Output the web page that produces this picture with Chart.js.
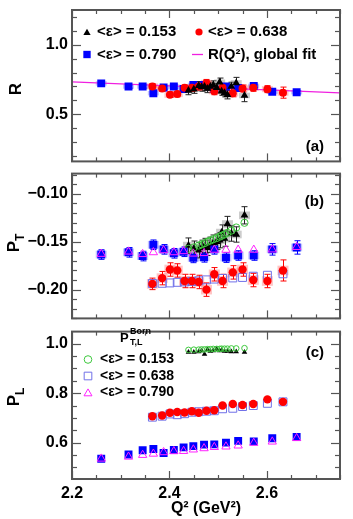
<!DOCTYPE html>
<html><head><meta charset="utf-8">
<script src="https://cdn.jsdelivr.net/npm/chart.js@4"></script>
<style>
html,body{margin:0;padding:0;background:#fff;}
body{width:353px;height:519px;position:relative;overflow:hidden;}
canvas{position:absolute;left:0;}
</style></head><body>
<canvas id="ca" width="353" height="167" style="top:0px"></canvas>
<canvas id="cb" width="353" height="158" style="top:167px"></canvas>
<canvas id="cc" width="353" height="194" style="top:325px"></canvas>
<script>
// ---------------- data ----------------
const xRange = [2.2, 2.75];
const xTicks = [2.2, 2.4, 2.6];
const yTicksR = [0.5, 1.0];
const yTicksPT = [-0.20, -0.15, -0.10];
const yTicksPL = [0.6, 0.8, 1.0];
const epsLabels = ['<ε> = 0.153', '<ε> = 0.638', '<ε> = 0.790'];
const fitLabel = 'R(Q²), global fit';

const q2E153 = [2.439, 2.450, 2.460, 2.466, 2.472, 2.478, 2.484, 2.490, 2.497, 2.503, 2.507, 2.513, 2.519, 2.527, 2.537, 2.554];
const q2E638 = [2.365, 2.385, 2.401, 2.416, 2.431, 2.446, 2.460, 2.476, 2.492, 2.509, 2.530, 2.550, 2.572, 2.601, 2.633];
const q2E790 = [2.260, 2.316, 2.345, 2.367, 2.388, 2.409, 2.429, 2.449, 2.471, 2.492, 2.516, 2.541, 2.573, 2.611, 2.661];

const rE153    = [0.670, 0.680, 0.705, 0.695, 0.700, 0.685, 0.700, 0.710, 0.690, 0.730, 0.665, 0.655, 0.640, 0.700, 0.725, 0.635];
const rErrE153 = [0.030, 0.030, 0.030, 0.030, 0.030, 0.030, 0.030, 0.030, 0.030, 0.030, 0.030, 0.030, 0.030, 0.030, 0.040, 0.045];
const rE638    = [0.700, 0.685, 0.640, 0.645, 0.690, 0.690, 0.700, 0.725, 0.665, 0.690, 0.650, 0.685, 0.690, 0.680, 0.655];
const rErrE638 = [0.020, 0.020, 0.020, 0.020, 0.020, 0.025, 0.025, 0.025, 0.025, 0.025, 0.025, 0.025, 0.025, 0.025, 0.040];
const rE790    = [0.722, 0.699, 0.699, 0.651, 0.692, 0.699, 0.681, 0.711, 0.711, 0.681, 0.699, 0.688, 0.704, 0.662, 0.658];
const rErrE790 = [0.012, 0.012, 0.012, 0.012, 0.012, 0.012, 0.012, 0.012, 0.012, 0.012, 0.012, 0.012, 0.012, 0.012, 0.012];
const fitQ2 = [2.2, 2.75];
const fitR  = [0.732, 0.653];

const ptE153    = [-0.1541, -0.1573, -0.1589, -0.1564, -0.1545, -0.1564, -0.1532, -0.1510, -0.1500, -0.1484, -0.1405, -0.1468, -0.1316, -0.1415, -0.1425, -0.1225];
const ptErrE153 = [0.008, 0.008, 0.008, 0.008, 0.008, 0.008, 0.008, 0.008, 0.008, 0.008, 0.008, 0.008, 0.008, 0.008, 0.008, 0.009];
const ptE638    = [-0.194, -0.188, -0.179, -0.180, -0.191, -0.191, -0.192, -0.200, -0.184, -0.191, -0.182, -0.179, -0.190, -0.191, -0.180];
const ptErrE638 = [0.006, 0.007, 0.007, 0.007, 0.007, 0.007, 0.007, 0.007, 0.007, 0.007, 0.007, 0.007, 0.007, 0.007, 0.011];
const ptE790    = [-0.1634, -0.1611, -0.1650, -0.1532, -0.1580, -0.1621, -0.1605, -0.1669, -0.1663, -0.1580, -0.1666, -0.1644, -0.1644, -0.1580, -0.1560];
const ptErrE790 = [0.005, 0.005, 0.005, 0.005, 0.005, 0.005, 0.005, 0.005, 0.005, 0.005, 0.005, 0.005, 0.005, 0.006, 0.007];
const ptBornE153 = [-0.1575, -0.1560, -0.1540, -0.1528, -0.1515, -0.1500, -0.1488, -0.1474, -0.1462, -0.1448, -0.1438, -0.1425, -0.1408, -0.1385, -0.1352, -0.1303];
const ptBornE638 = [-0.1936, -0.1934, -0.1930, -0.1924, -0.1920, -0.1914, -0.1908, -0.1898, -0.1890, -0.1883, -0.1878, -0.1873, -0.1860, -0.1850, -0.1835];
const ptBornE790 = [-0.1628, -0.1604, -0.1630, -0.1611, -0.1590, -0.1611, -0.1600, -0.1625, -0.1620, -0.1585, -0.1585, -0.1585, -0.1585, -0.1582, -0.1556];

const plE153 = [0.966, 0.966, 0.968, 0.972, 0.958, 0.976, 0.970, 0.972, 0.978, 0.972, 0.974, 0.970, 0.970, 0.968, 0.968, 0.966];
const plE638 = [0.707, 0.710, 0.721, 0.724, 0.722, 0.727, 0.721, 0.729, 0.731, 0.750, 0.756, 0.752, 0.756, 0.775, 0.765];
const plE790 = [0.535, 0.552, 0.569, 0.574, 0.558, 0.570, 0.581, 0.586, 0.592, 0.593, 0.600, 0.607, 0.605, 0.618, 0.623];
const plBornE153 = [0.975, 0.976, 0.976, 0.977, 0.977, 0.978, 0.978, 0.979, 0.979, 0.979, 0.980, 0.980, 0.980, 0.981, 0.981, 0.982];
const plBornE638 = [0.703, 0.707, 0.716, 0.713, 0.717, 0.723, 0.725, 0.727, 0.729, 0.737, 0.739, 0.746, 0.750, 0.759, 0.765];
const plBornE790 = [0.535, 0.543, 0.550, 0.555, 0.561, 0.565, 0.566, 0.572, 0.577, 0.582, 0.584, 0.588, 0.599, 0.604, 0.618];

// systematic half-heights (value units) per series
const sysR  = [0.020, 0.022, 0.016];   // e153, e638, e790
const sysPT = [0.004, 0.005, 0.004];

// ---------------- styling / helpers ----------------
const FONT = "'Liberation Sans', Arial, Helvetica, sans-serif";
const FRAME = '#555';
const pts = (xs, ys) => xs.map((x, i) => ({x: x, y: ys[i]}));
const fmt = (v, d) => v.toFixed(d).replace('-', '\u2212');

function marker(ctx, style, x, y, r, fill, stroke, lw) {
  ctx.beginPath();
  if (style === 'triangle') {
    ctx.moveTo(x, y - r); ctx.lineTo(x + r * 0.866, y + r * 0.5); ctx.lineTo(x - r * 0.866, y + r * 0.5); ctx.closePath();
  } else if (style === 'rect') {
    const s = r * Math.SQRT1_2; ctx.rect(x - s, y - s, 2 * s, 2 * s);
  } else { ctx.arc(x, y, r, 0, Math.PI * 2); }
  if (fill) { ctx.fillStyle = fill; ctx.fill(); }
  if (stroke) { ctx.strokeStyle = stroke; ctx.lineWidth = lw || 1; ctx.stroke(); }
}
function text(ctx, s, x, y, size, align) {
  ctx.font = 'bold ' + size + 'px ' + FONT;
  ctx.fillStyle = '#000'; ctx.textAlign = align || 'left'; ctx.textBaseline = 'middle';
  ctx.fillText(s, x, y);
}
function yTitle(ctx, cx, cy, main, sub, size) {
  ctx.save(); ctx.translate(cx, cy); ctx.rotate(-Math.PI / 2);
  ctx.fillStyle = '#000'; ctx.textAlign = 'left'; ctx.textBaseline = 'alphabetic';
  ctx.font = 'bold ' + size + 'px ' + FONT; const wM = ctx.measureText(main).width;
  const ss = Math.round(size * 0.68);
  ctx.font = 'bold ' + ss + 'px ' + FONT; const wS = sub ? ctx.measureText(sub).width : 0;
  const x0 = -(wM + wS) / 2, base = size * 0.36;
  ctx.font = 'bold ' + size + 'px ' + FONT; ctx.fillText(main, x0, base);
  if (sub) { ctx.font = 'bold ' + ss + 'px ' + FONT; ctx.fillText(sub, x0 + wM, base + size * 0.28); }
  ctx.restore();
}
function line(ctx, x1, y1, x2, y2) { ctx.beginPath(); ctx.moveTo(x1, y1); ctx.lineTo(x2, y2); ctx.stroke(); }

function frameAndTicks(chart, yMinorStep) {
  const ctx = chart.ctx, a = chart.chartArea, xs = chart.scales.x, ys = chart.scales.y;
  ctx.save(); ctx.strokeStyle = FRAME; ctx.lineWidth = 1.2;
  const near = (v, arr) => arr.some(t => Math.abs(t - v) < 1e-6);
  for (let k = 0; ; k++) {
    const v = xRange[0] + k * 0.05; if (v > xRange[1] + 1e-9) break;
    const px = Math.round(xs.getPixelForValue(v)) + 0.5, L = near(v, xTicks) ? 8 : 4;
    line(ctx, px, a.bottom, px, a.bottom - L); line(ctx, px, a.top, px, a.top + L);
  }
  const yt = ys.ticks.map(t => t.value);
  const start = Math.ceil(ys.min / yMinorStep - 1e-6);
  for (let k = start; k * yMinorStep <= ys.max + 1e-9; k++) {
    const v = k * yMinorStep, py = Math.round(ys.getPixelForValue(v)) + 0.5, L = near(v, yt) ? 9 : 5;
    line(ctx, a.left, py, a.left + L, py); line(ctx, a.right, py, a.right - L, py);
  }
  ctx.lineWidth = 2;
  ctx.strokeRect(a.left, a.top, a.right - a.left, a.bottom - a.top);
  ctx.restore();
}

const errPlugin = {
  id: 'errbars',
  beforeDatasetsDraw(chart) {
    const ctx = chart.ctx, ys = chart.scales.y;
    ctx.save();
    chart.data.datasets.forEach((d, i) => {
      if (!d.err) return;
      const meta = chart.getDatasetMeta(i);
      meta.data.forEach((el, j) => {
        const v = d.data[j].y;
        if (d.sys) {
          const s1 = ys.getPixelForValue(v + d.sys), s2 = ys.getPixelForValue(v - d.sys);
          ctx.fillStyle = d.sysColor; ctx.fillRect(el.x - 5.5, s1, 11, s2 - s1);
        }
        const yT = ys.getPixelForValue(v + d.err[j]), yB = ys.getPixelForValue(v - d.err[j]);
        ctx.strokeStyle = d.errColor; ctx.lineWidth = 1;
        const x = Math.round(el.x) + 0.5;
        line(ctx, x, yT, x, yB); line(ctx, x - 3, yT, x + 3, yT); line(ctx, x - 3, yB, x + 3, yB);
      });
    });
    ctx.restore();
  }
};

function makeChart(id, yMin, yMax, yTicks, dec, datasets, showX, padTop, decor) {
  return new Chart(document.getElementById(id), {
    type: 'scatter',
    data: {datasets: datasets},
    options: {
      responsive: false, animation: false, devicePixelRatio: 1,
      layout: {padding: {left: 0, right: 13, top: padTop, bottom: 0}},
      plugins: {legend: {display: false}, tooltip: {enabled: false}},
      scales: {
        x: {type: 'linear', min: xRange[0], max: xRange[1], display: showX, position: 'bottom',
            afterBuildTicks: s => { s.ticks = xTicks.map(v => ({value: v})); },
            afterFit: s => { s.paddingLeft = 0; s.paddingRight = 0; if (showX) s.height = 40; },
            grid: {display: false, drawTicks: false}, border: {display: false},
            ticks: {font: {family: FONT, size: 16, weight: 'bold'}, color: '#000', padding: 5, maxRotation: 0,
                    callback: v => fmt(v, 1)},
            title: {display: showX, text: 'Q² (GeV²)', color: '#000',
                    font: {family: FONT, size: 16, weight: 'bold'}, padding: {top: 0, bottom: 1}}},
        y: {type: 'linear', min: yMin, max: yMax,
            afterBuildTicks: s => { s.ticks = yTicks.map(v => ({value: v})); },
            afterFit: s => { s.width = 72; s.paddingTop = 0; s.paddingBottom = 0; },
            grid: {display: false, drawTicks: false}, border: {display: false},
            ticks: {font: {family: FONT, size: 16, weight: 'bold'}, color: '#000', padding: 4,
                    callback: v => fmt(v, dec)}}
      }
    },
    plugins: [errPlugin, {id: 'decor', afterDraw: decor}]
  });
}

const BLUE = '#0000ff', RED = '#ff0000', MAG = '#ff22ff', LAV = '#7070e8', GRN = '#3ec83e';

// ---------------- panel (a) ----------------
makeChart('ca', 0.16, 1.25, yTicksR, 1, [
  {data: pts(q2E153, rE153), pointStyle: 'triangle', pointRadius: 4.5, backgroundColor: '#000', borderColor: '#000', borderWidth: 0,
   err: rErrE153, errColor: '#222', sys: sysR[0], sysColor: 'rgba(110,110,110,0.35)'},
  {data: pts(q2E638, rE638), pointStyle: 'circle', pointRadius: 4, backgroundColor: RED, borderColor: RED, borderWidth: 0,
   err: rErrE638, errColor: RED, sys: sysR[1], sysColor: 'rgba(255,90,90,0.35)'},
  {data: pts(q2E790, rE790), pointStyle: 'rect', pointRadius: 5.6, backgroundColor: BLUE, borderColor: BLUE, borderWidth: 0,
   err: rErrE790, errColor: BLUE, sys: sysR[2], sysColor: 'rgba(90,90,255,0.35)'},
  {data: pts(fitQ2, fitR), showLine: true, pointRadius: 0, borderColor: '#f020e0', borderWidth: 1.3}
], false, 10, chart => {
  const ctx = chart.ctx;
  frameAndTicks(chart, 0.1);
  marker(ctx, 'triangle', 87, 33, 4.2, '#000');
  text(ctx, epsLabels[0], 97, 32, 15);
  marker(ctx, 'circle', 199, 32, 3.6, RED);
  text(ctx, epsLabels[1], 208, 32, 15);
  marker(ctx, 'rect', 87, 54.5, 5.2, BLUE);
  text(ctx, epsLabels[2], 97, 54.5, 15);
  ctx.strokeStyle = '#f020e0'; ctx.lineWidth = 1.3; line(ctx, 192, 54.5, 203, 54.5);
  text(ctx, fitLabel, 208, 54.5, 15);
  text(ctx, '(a)', 324, 147, 15, 'right');
  yTitle(ctx, 15, 89, 'R', '', 17);
});

// ---------------- panel (b) ----------------
makeChart('cb', -0.23, -0.079, yTicksPT, 2, [
  {data: pts(q2E790, ptBornE790), pointStyle: 'triangle', pointRadius: 4.8, backgroundColor: 'rgba(0,0,0,0)', borderColor: MAG, borderWidth: 1},
  {data: pts(q2E790, ptE790), pointStyle: 'rect', pointRadius: 5.6, backgroundColor: BLUE, borderColor: BLUE, borderWidth: 0,
   err: ptErrE790, errColor: BLUE, sys: sysPT[2], sysColor: 'rgba(90,90,255,0.35)'},
  {data: pts(q2E638, ptE638), pointStyle: 'circle', pointRadius: 4.2, backgroundColor: RED, borderColor: RED, borderWidth: 0,
   err: ptErrE638, errColor: RED, sys: sysPT[1], sysColor: 'rgba(255,90,90,0.35)'},
  {data: pts(q2E638, ptBornE638), pointStyle: 'rect', pointRadius: 5.6, backgroundColor: 'rgba(0,0,0,0)', borderColor: LAV, borderWidth: 1},
  {data: pts(q2E153, ptBornE153), pointStyle: 'circle', pointRadius: 3.6, backgroundColor: 'rgba(0,0,0,0)', borderColor: GRN, borderWidth: 1},
  {data: pts(q2E153, ptE153), pointStyle: 'triangle', pointRadius: 4.5, backgroundColor: '#000', borderColor: '#000', borderWidth: 0,
   err: ptErrE153, errColor: '#222', sys: sysPT[0], sysColor: 'rgba(110,110,110,0.35)'}
], false, 0, chart => {
  const ctx = chart.ctx;
  frameAndTicks(chart, 0.01);
  text(ctx, '(b)', 324, 35, 15, 'right');
  yTitle(ctx, 13, 76, 'P', 'T', 17);
});

// ---------------- panel (c) ----------------
makeChart('cc', 0.453, 1.049, yTicksPL, 1, [
  {data: pts(q2E790, plBornE790), pointStyle: 'triangle', pointRadius: 4.8, backgroundColor: 'rgba(0,0,0,0)', borderColor: MAG, borderWidth: 1},
  {data: pts(q2E790, plE790), pointStyle: 'rect', pointRadius: 5.6, backgroundColor: BLUE, borderColor: BLUE, borderWidth: 0},
  {data: pts(q2E638, plE638), pointStyle: 'circle', pointRadius: 4.2, backgroundColor: RED, borderColor: RED, borderWidth: 0},
  {data: pts(q2E638, plBornE638), pointStyle: 'rect', pointRadius: 5.6, backgroundColor: 'rgba(0,0,0,0)', borderColor: LAV, borderWidth: 1},
  {data: pts(q2E153, plBornE153), pointStyle: 'circle', pointRadius: 2.8, backgroundColor: 'rgba(0,0,0,0)', borderColor: GRN, borderWidth: 1},
  {data: pts(q2E153, plE153), pointStyle: 'triangle', pointRadius: 3.2, backgroundColor: '#000', borderColor: '#000', borderWidth: 0}
], true, 0, chart => {
  const ctx = chart.ctx;
  frameAndTicks(chart, 0.05);
  // legend header P^Born_{T,L}
  ctx.fillStyle = '#000'; ctx.textAlign = 'left'; ctx.textBaseline = 'alphabetic';
  ctx.font = 'bold 13px ' + FONT; ctx.fillText('P', 120, 17);
  ctx.font = 'bold 9px ' + FONT; ctx.fillText('Born', 130, 9); ctx.fillText('T,L', 130, 20);
  marker(ctx, 'circle', 88, 34.5, 3.8, null, GRN, 1);
  text(ctx, epsLabels[0], 100, 34.5, 14);
  marker(ctx, 'rect', 88, 51, 5.4, null, LAV, 1);
  text(ctx, epsLabels[1], 100, 51, 14);
  marker(ctx, 'triangle', 88, 68.5, 4.6, null, MAG, 1);
  text(ctx, epsLabels[2], 100, 67.5, 14);
  text(ctx, '(c)', 324, 28, 15, 'right');
  yTitle(ctx, 13, 72, 'P', 'L', 17);
});
</script>
</body></html>
